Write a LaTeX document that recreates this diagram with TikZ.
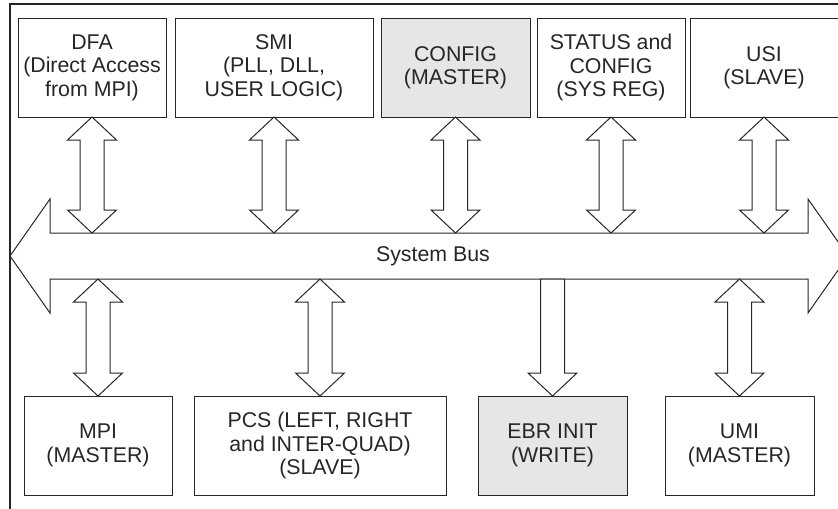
\documentclass[tikz,border=0pt]{standalone}
\usepackage{fontspec}
\setmainfont{Liberation Sans}
\usetikzlibrary{calc}
\definecolor{ink}{HTML}{262626}
\definecolor{shade}{HTML}{E6E6E6}

\begin{document}
\begin{tikzpicture}[x=0.75pt,y=-0.75pt,
    box/.style={draw=ink,text=ink,line width=0.75pt,align=center,inner sep=0pt,outer sep=0pt,
      minimum height=74.25pt,font={\fontsize{16}{17.6}\selectfont}},
    both/.style={draw=ink,fill=white,line width=0.75pt,line join=miter,
      to path={(\tikztostart) -- ($(\tikztostart)+(24.5,23)$) -- ($(\tikztostart)+(12,23)$)
        -- ($(\tikztotarget)+(12,-23)$) -- ($(\tikztotarget)+(24.5,-23)$) -- (\tikztotarget)
        -- ($(\tikztotarget)+(-24.5,-23)$) -- ($(\tikztotarget)+(-12,-23)$)
        -- ($(\tikztostart)+(-12,23)$) -- ($(\tikztostart)+(-24.5,23)$) -- cycle}},
    down/.style={draw=ink,fill=white,line width=0.75pt,line join=miter,
      to path={($(\tikztostart)+(-12,0)$) -- ($(\tikztostart)+(12,0)$)
        -- ($(\tikztotarget)+(12,-23)$) -- ($(\tikztotarget)+(24.5,-23)$) -- (\tikztotarget)
        -- ($(\tikztotarget)+(-24.5,-23)$) -- ($(\tikztotarget)+(-12,-23)$) -- cycle}}]

    \useasboundingbox (0,0) rectangle (838,508);
    \clip (0,0) rectangle (838,508);
    \draw[ink,line width=1.1pt] (10,4) rectangle (870,540);

    % top row
    \node[box,minimum width=111pt] (dfa) at (92,67.5) {DFA\\(Direct Access\\from MPI)};
    \node[box,minimum width=148.5pt] (smi) at (274,67.5) {SMI\\(PLL, DLL,\\USER LOGIC)};
    \node[box,fill=shade,minimum width=111.75pt] (config) at (455.5,67.5) {CONFIG\\(MASTER)};
    \node[box,minimum width=111pt] (status) at (611,67.5) {STATUS and\\CONFIG\\(SYS REG)};
    \node[box,minimum width=111pt] (usi) at (764,67.5) {USI\\(SLAVE)};

    % bottom row
    \node[box,minimum width=111pt] (mpi) at (98,445.5) {MPI\\(MASTER)};
    \node[box,minimum width=189pt] (pcs) at (320,445.5) {PCS (LEFT, RIGHT\\and INTER-QUAD)\\(SLAVE)};
    \node[box,fill=shade,minimum width=111.75pt] (ebr) at (552.5,445.5) {EBR INIT\\(WRITE)};
    \node[box,minimum width=111.75pt] (umi) at (739.5,445.5) {UMI\\(MASTER)};

    % system bus
    \draw[ink,line width=0.75pt,line join=miter] (10,256) -- (50,199) -- (50,233) -- (808,233)
      -- (808,199) -- (848,256) -- (808,313) -- (808,279) -- (50,279) -- (50,313) -- cycle;
    \coordinate (bustop) at (429,233);
    \coordinate (busbot) at (429,279);
    \node[text=ink,font={\fontsize{16}{17.6}\selectfont}] (bus) at (433,256) {System Bus};

    \path[both] (dfa.south) to (dfa.south |- bustop);
    \path[both] (smi.south) to (smi.south |- bustop);
    \path[both] (config.south) to (config.south |- bustop);
    \path[both] (status.south) to (status.south |- bustop);
    \path[both] (usi.south) to (usi.south |- bustop);

    \path[both] (mpi.north |- busbot) to (mpi.north);
    \path[both] (pcs.north |- busbot) to (pcs.north);
    \path[down] (ebr.north |- busbot) to (ebr.north);
    \path[both] (umi.north |- busbot) to (umi.north);
\end{tikzpicture}
\end{document}
